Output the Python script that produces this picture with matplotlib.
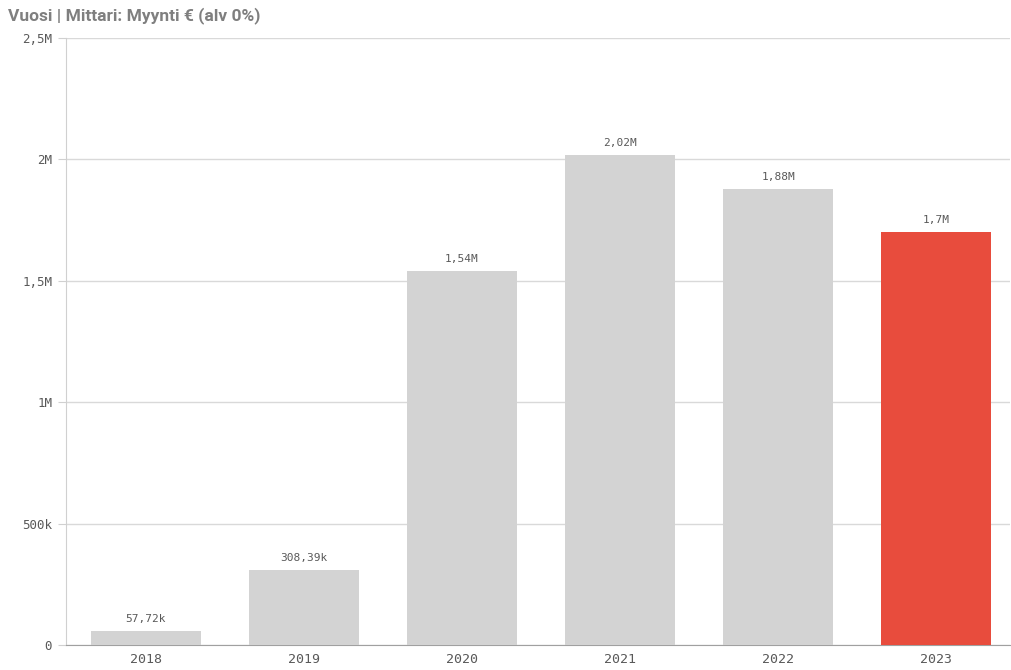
import matplotlib
matplotlib.use("Agg")
from matplotlib import pyplot as plt
from matplotlib.ticker import FuncFormatter

years = ["2018", "2019", "2020", "2021", "2022", "2023"]
sales = [57720, 308390, 1540000, 2020000, 1880000, 1700000]
value_labels = ["57,72k", "308,39k", "1,54M", "2,02M", "1,88M", "1,7M"]
y_ticks = [0, 500000, 1000000, 1500000, 2000000, 2500000]
y_tick_labels = ["0", "500k", "1M", "1,5M", "2M", "2,5M"]

GRAY = "#d3d3d3"
RED = "#e84c3d"
TEXT = "#595959"

fig = plt.figure(figsize=(10.11, 6.7), dpi=100)
ax = fig.add_axes([0.0653, 0.0373, 0.934, 0.906])

colors = [GRAY] * (len(years) - 1) + [RED]
bars = ax.bar(range(len(years)), sales, width=0.7, color=colors, zorder=3)

for bar, label in zip(bars, value_labels):
    ax.annotate(label, (bar.get_x() + bar.get_width() / 2, bar.get_height()),
                xytext=(0, 5), textcoords="offset points", ha="center", va="bottom",
                fontsize=8, color=TEXT, family="DejaVu Sans Mono")

ax.set_xlim(-0.506, 5.469)
ax.set_ylim(0, 2500000)
ax.set_yticks(y_ticks)
ax.yaxis.set_major_formatter(FuncFormatter(lambda v, p: y_tick_labels[y_ticks.index(v)] if v in y_ticks else ""))
ax.set_xticks(range(len(years)))
ax.set_xticklabels(years)

ax.grid(axis="y", color="#d9d9d9", linewidth=1, zorder=0)
for side in ["top", "right"]:
    ax.spines[side].set_visible(False)
ax.spines["left"].set_color("#d0d0d0")
ax.spines["bottom"].set_color("#a0a0a0")
ax.tick_params(axis="y", length=6, color="#d0d0d0", labelsize=9, labelcolor=TEXT, pad=4)
ax.tick_params(axis="x", length=0, labelsize=9.5, labelcolor=TEXT, pad=6)
for lbl in ax.get_xticklabels() + ax.get_yticklabels():
    lbl.set_family("DejaVu Sans Mono")

fig.text(0.008, 0.99, "Vuosi | Mittari: Myynti € (alv 0%)", ha="left", va="top",
         fontsize=12.5, fontweight="bold", color="#7f7f7f", family="Roboto")

fig.savefig("out.png", dpi=100)
